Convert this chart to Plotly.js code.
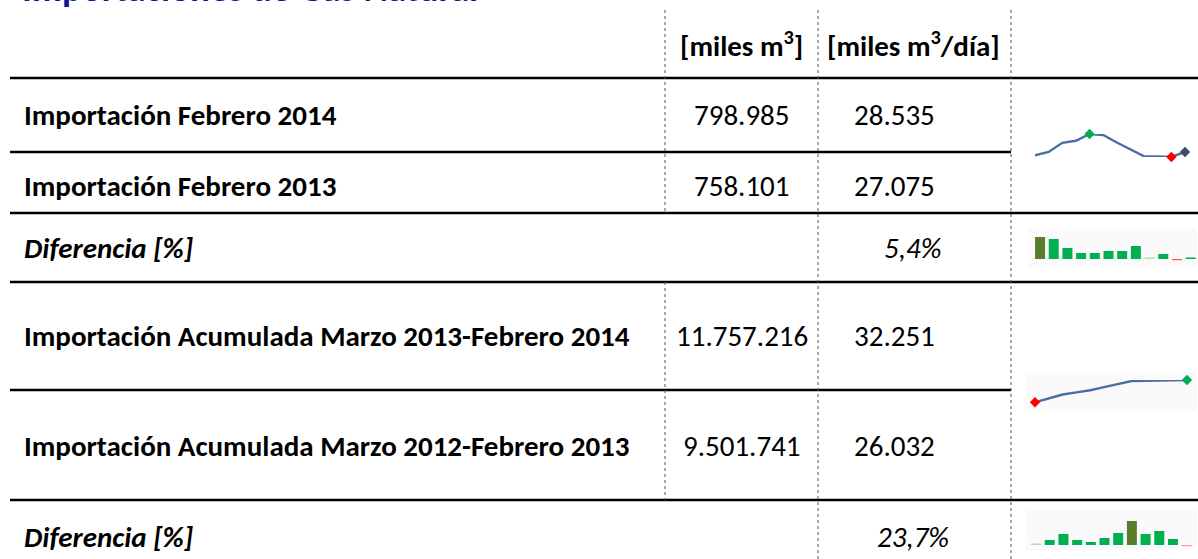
<!DOCTYPE html>
<html>
<head>
<meta charset="utf-8">
<script src="https://cdn.plot.ly/plotly-3.0.1.min.js"></script>
<style>
  html, body { margin: 0; padding: 0; background: #ffffff; }
  #chart { width: 1198px; height: 559px; }
</style>
</head>
<body>
<div id="chart"></div>
<script>
// ---------------- DATA ----------------
var title = "Importaciones de Gas Natural";
var headerUnits = ["[miles m<sup>3</sup>]", "[miles m<sup>3</sup>/día]"];

var rowLabels = [
  "Importación Febrero 2014",
  "Importación Febrero 2013",
  "Diferencia [%]",
  "Importación Acumulada Marzo 2013-Febrero 2014",
  "Importación Acumulada Marzo 2012-Febrero 2013",
  "Diferencia [%]"
];
var colTotal = ["798.985", "758.101", "", "11.757.216", "9.501.741", ""];
var colDaily = ["28.535", "27.075", "5,4%", "32.251", "26.032", "23,7%"];
var italicRow = [false, false, true, false, false, true];

// Sparkline: monthly daily imports, Mar 2013 - Feb 2014 (estimated)
var monthlyDaily = [25.5, 28.5, 36.7, 38.5, 44.6, 43.7, 37.0, 30.7, 24.6, 24.6, 24.0, 28.5];
// Sparkline: rolling 12-month daily average (estimated)
var rollingDaily = [26.03, 27.15, 28.21, 28.79, 29.38, 30.27, 31.13, 31.97, 32.03, 32.05, 32.17, 32.25];
// Column sparklines: monthly differences (relative, estimated)
var diffMonthly = [22, 20, 11, 6, 6, 8, 8, 13, 1.5, 5, -1.5, 1.5];
var diffRolling = [1.5, 5, 11, 5, 3, 7, 12, 24, 11, 14, 6, -1.5];

// ---------------- LAYOUT HELPERS ----------------
var W = 1198, H = 559;
function fx(x) { return x / W; }
function fy(y) { return 1 - y / H; }

var FONT = "Carlito, Lato, 'Liberation Sans', sans-serif";
var FS = 29;
var annotations = [];
var shapes = [];

// Title (cut at top of the picture, as in the source)
annotations.push({
  text: "<b>" + title + "</b>", xref: "paper", yref: "paper",
  x: fx(20), y: fy(-12), xanchor: "left", yanchor: "middle", showarrow: false,
  font: { family: FONT, size: 37, color: "#14148C" }
});

// Header
var colCenters = [741, 914];
headerUnits.forEach(function (t, i) {
  annotations.push({
    text: "<b>" + t + "</b>", xref: "paper", yref: "paper",
    x: fx(colCenters[i]), y: fy(45), xanchor: "center", yanchor: "middle", showarrow: false,
    font: { family: FONT, size: FS, color: "#000000" }
  });
});

var rowY = [115, 186, 248, 336, 446, 537];
rowLabels.forEach(function (lab, i) {
  var t = italicRow[i] ? "<b><i>" + lab + "</i></b>" : "<b>" + lab + "</b>";
  annotations.push({
    text: t, xref: "paper", yref: "paper",
    x: fx(22), y: fy(rowY[i]), xanchor: "left", yanchor: "middle", showarrow: false,
    font: { family: FONT, size: FS, color: "#000000" }
  });
  if (colTotal[i]) {
    annotations.push({
      text: colTotal[i], xref: "paper", yref: "paper",
      x: fx(742), y: fy(rowY[i]), xanchor: "center", yanchor: "middle", showarrow: false,
      font: { family: FONT, size: FS, color: "#000000" }
    });
  }
  if (colDaily[i]) {
    annotations.push({
      text: italicRow[i] ? "<i>" + colDaily[i] + "</i>" : colDaily[i], xref: "paper", yref: "paper",
      x: fx(italicRow[i] ? 913 : 894), y: fy(rowY[i]), xanchor: "center", yanchor: "middle", showarrow: false,
      font: { family: FONT, size: FS, color: "#000000" }
    });
  }
});

// Horizontal solid rules
function hline(y, x0, x1) {
  shapes.push({ type: "line", xref: "paper", yref: "paper",
    x0: fx(x0), x1: fx(x1), y0: fy(y), y1: fy(y),
    line: { color: "#000000", width: 2.5 } });
}
hline(78, 10, 1198);
hline(152, 10, 1011);
hline(213, 10, 1198);
hline(282, 10, 1198);
hline(390, 10, 1011);
hline(500, 10, 1198);

// Vertical dotted rules
function vline(x, y0, y1) {
  shapes.push({ type: "line", xref: "paper", yref: "paper",
    x0: fx(x), x1: fx(x), y0: fy(y0), y1: fy(y1),
    line: { color: "#555555", width: 1, dash: "dot" } });
}
vline(665, 10, 213);
vline(665, 282, 500);
vline(818, 10, 559);
vline(1011, 10, 559);

// Faint sparkline backgrounds
function bgRect(x0, y0, x1, y1) {
  shapes.push({ type: "rect", xref: "paper", yref: "paper", layer: "below",
    x0: fx(x0), x1: fx(x1), y0: fy(y1), y1: fy(y0),
    line: { width: 0 }, fillcolor: "#fafafa" });
}
bgRect(1028, 228, 1197, 267);
bgRect(1025, 372, 1197, 411);
bgRect(1025, 510, 1197, 550);

// ---------------- SPARKLINE TRACES ----------------
var idx = monthlyDaily.map(function (_, i) { return i; });
function argmax(a) { var m = 0; a.forEach(function (v, i) { if (v > a[m]) m = i; }); return m; }
function argmin(a) { var m = 0; a.forEach(function (v, i) { if (v < a[m]) m = i; }); return m; }

var LINE_COL = "#4A6FA5";
var GREEN = "#00B050", RED = "#FF0000", DARK = "#3E4C66", OLIVE = "#5A7D2C";

var m1max = argmax(monthlyDaily), m1min = argmin(monthlyDaily), m1last = monthlyDaily.length - 1;
var m2max = argmax(rollingDaily), m2min = argmin(rollingDaily);

var traces = [
  { x: idx, y: monthlyDaily, xaxis: "x", yaxis: "y", mode: "lines", cliponaxis: false,
    line: { color: LINE_COL, width: 2.4 }, hoverinfo: "skip", showlegend: false },
  { x: [m1max, m1min, m1last], y: [monthlyDaily[m1max], monthlyDaily[m1min], monthlyDaily[m1last]],
    xaxis: "x", yaxis: "y", mode: "markers", cliponaxis: false,
    marker: { symbol: "diamond", size: 8, color: [GREEN, RED, DARK] }, hoverinfo: "skip", showlegend: false },
  { x: idx, y: rollingDaily, xaxis: "x2", yaxis: "y2", mode: "lines", cliponaxis: false,
    line: { color: LINE_COL, width: 2.4 }, hoverinfo: "skip", showlegend: false },
  { x: [m2min, m2max], y: [rollingDaily[m2min], rollingDaily[m2max]],
    xaxis: "x2", yaxis: "y2", mode: "markers", cliponaxis: false,
    marker: { symbol: "diamond", size: 8, color: [RED, GREEN] }, hoverinfo: "skip", showlegend: false },
  { x: idx, y: diffMonthly, xaxis: "x3", yaxis: "y3", type: "bar", cliponaxis: false,
    marker: { color: diffMonthly.map(function (v, i) {
      if (i === argmax(diffMonthly)) return OLIVE;
      if (i === argmin(diffMonthly)) return "#FF5A5A";
      if (i === 8) return "#A6E0BC";
      return GREEN; }), line: { width: 0 } },
    hoverinfo: "skip", showlegend: false },
  { x: idx, y: diffRolling, xaxis: "x4", yaxis: "y4", type: "bar", cliponaxis: false,
    marker: { color: diffRolling.map(function (v, i) {
      if (i === argmax(diffRolling)) return OLIVE;
      if (i === argmin(diffRolling)) return "#F29C9C";
      if (i === 0) return "#A6E0BC";
      return GREEN; }), line: { width: 0 } },
    hoverinfo: "skip", showlegend: false }
];

function hiddenAxis(extra) {
  var a = { visible: false, showgrid: false, zeroline: false, fixedrange: true };
  for (var k in extra) a[k] = extra[k];
  return a;
}

var layout = {
  width: W, height: H,
  margin: { l: 0, r: 0, t: 0, b: 0 },
  paper_bgcolor: "#ffffff", plot_bgcolor: "rgba(0,0,0,0)",
  showlegend: false, bargap: 0.27,
  xaxis:  hiddenAxis({ domain: [fx(1035), fx(1185)], range: [0, 11], anchor: "y" }),
  yaxis:  hiddenAxis({ domain: [fy(157), fy(134)], range: [Math.min.apply(null, monthlyDaily), Math.max.apply(null, monthlyDaily)], anchor: "x" }),
  xaxis2: hiddenAxis({ domain: [fx(1035), fx(1187)], range: [0, 11], anchor: "y2" }),
  yaxis2: hiddenAxis({ domain: [fy(402.3), fy(380)], range: [Math.min.apply(null, rollingDaily), Math.max.apply(null, rollingDaily)], anchor: "x2" }),
  xaxis3: hiddenAxis({ domain: [fx(1033.2), fx(1197.5)], range: [-0.5, 11.5], anchor: "y3" }),
  yaxis3: hiddenAxis({ domain: [fy(260.5), fy(237)], range: [-1.5, 22], anchor: "x3" }),
  xaxis4: hiddenAxis({ domain: [fx(1029.2), fx(1193.5)], range: [-0.5, 11.5], anchor: "y4" }),
  yaxis4: hiddenAxis({ domain: [fy(546.5), fy(521)], range: [-1.5, 24], anchor: "x4" }),
  annotations: annotations,
  shapes: shapes
};

Plotly.newPlot("chart", traces, layout, { staticPlot: true, displayModeBar: false });
</script>
</body>
</html>
